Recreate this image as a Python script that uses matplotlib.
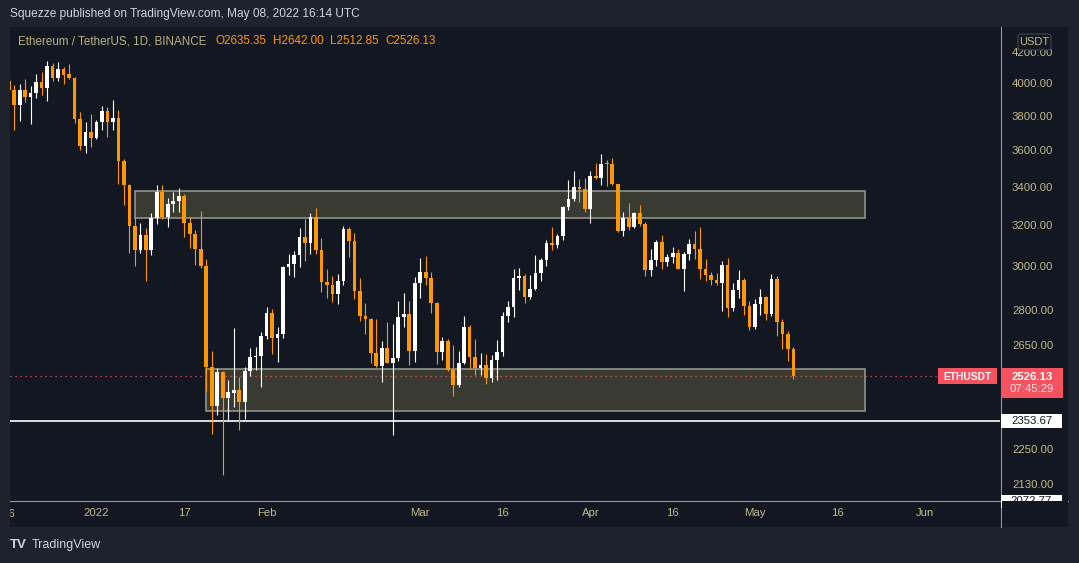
import numpy as np
import pandas as pd
import matplotlib
matplotlib.use('Agg')
import matplotlib.pyplot as plt
from matplotlib.patches import Rectangle, FancyBboxPatch
from matplotlib.ticker import NullLocator

plt.rcParams['font.family'] = ['Liberation Sans', 'DejaVu Sans']

W, H = 1079, 563

# ETH/USDT daily candles, 16 Dec 2021 .. 8 May 2022
dates = pd.date_range('2021-12-16', '2022-05-08', freq='D')
opens = [
    4015, 3956, 3864, 3956, 3915, 3937, 4006, 3970, 4108, 4031, 4089, 4057, 4031, 3780, 3625, 3705,  # dec
    3672, 3763, 3828, 3763, 3784, 3540, 3408, 3195, 3077, 3150, 3077, 3235, 3370, 3243, 3307, 3325,
    3350, 3210, 3158, 3080, 3000, 2560, 2410, 2540, 2440, 2460, 2468, 2424, 2545, 2600, 2605,  # jan
    2688, 2787, 2679, 2698, 2995, 3010, 3055, 3140, 3112, 3242, 3075, 2925, 2915, 2870, 2930, 3180,
    3120, 2886, 2773, 2760, 2617, 2565, 2638, 2578, 2597, 2770, 2782, 2625,  # feb
    2920, 2975, 2945, 2832, 2620, 2667, 2550, 2490, 2577, 2727, 2600, 2555, 2568, 2515, 2590, 2620,
    2773, 2815, 2945, 2952, 2860, 2895, 2970, 3030, 3110, 3104, 3145, 3292, 3332, 3400, 3385,  # mar
    3282, 3455, 3444, 3522, 3520, 3412, 3170, 3235, 3190, 3260, 3205, 2980, 3030, 3118, 3020, 3043,
    3063, 2988, 3058, 3105, 3080, 2985, 2960, 2935, 2920, 3008, 2810, 2890, 2937, 2817,  # apr
    2727, 2826, 2857, 2783, 2940, 2750, 2695, 2635.35,  # may
]
highs = [
    4060, 3987, 3994, 4025, 3981, 4057, 4070, 4140, 4127, 4133, 4101, 4120, 4035, 3822, 3763, 3810,
    3774, 3858, 3852, 3895, 3835, 3550, 3415, 3240, 3210, 3185, 3260, 3407, 3410, 3340, 3370, 3390,
    3360, 3240, 3175, 3270, 3035, 2625, 2555, 2545, 2510, 2723, 2520, 2560, 2638, 2642, 2705,
    2815, 2807, 2727, 3000, 3058, 3072, 3185, 3230, 3260, 3285, 3135, 2987, 2955, 2964, 3195, 3190,
    3160, 2946, 2830, 2765, 2760, 2667, 2750, 2738, 2840, 2876, 2840, 2950,
    3040, 3050, 2973, 2834, 2684, 2675, 2650, 2625, 2775, 2735, 2675, 2617, 2613, 2610, 2670, 2790,
    2840, 2985, 2990, 2963, 2960, 3052, 3040, 3125, 3190, 3155, 3300, 3435, 3485, 3440, 3445,
    3485, 3530, 3578, 3545, 3555, 3415, 3268, 3315, 3268, 3305, 3215, 3082, 3126, 3150, 3060, 3090,
    3082, 3070, 3130, 3170, 3190, 3035, 2975, 2968, 3025, 3040, 2922, 2980, 2945, 2840,
    2850, 2895, 2862, 2965, 2955, 2760, 2710, 2642.00,
]
lows = [
    3940, 3718, 3770, 3880, 3752, 3906, 3925, 3890, 4012, 4012, 3994, 4025, 3757, 3600, 3585, 3620,
    3665, 3716, 3675, 3715, 3412, 3303, 3065, 3000, 3063, 2930, 3053, 3205, 3232, 3190, 3265, 3266,
    3140, 3085, 3005, 2990, 2465, 2305, 2375, 2160, 2356, 2405, 2320, 2360, 2523, 2550, 2480,
    2675, 2615, 2580, 2680, 2960, 2950, 2995, 3025, 3060, 3060, 2882, 2855, 2838, 2828, 2913, 3045,
    2850, 2752, 2698, 2575, 2560, 2500, 2576, 2300, 2585, 2726, 2568, 2580,
    2855, 2913, 2787, 2573, 2590, 2545, 2446, 2480, 2572, 2554, 2528, 2528, 2493, 2500, 2508, 2605,
    2750, 2770, 2890, 2830, 2850, 2890, 2930, 3000, 3077, 3085, 3125, 3277, 3322, 3320, 3265,
    3212, 3440, 3408, 3405, 3410, 3165, 3145, 3175, 3185, 3195, 2955, 2955, 3000, 2985, 3000, 3013,
    2985, 2885, 3030, 3035, 2940, 2930, 2915, 2913, 2795, 2770, 2795, 2853, 2778, 2715,
    2720, 2778, 2755, 2775, 2690, 2635, 2587, 2512.85,
]
closes = [
    3956, 3864, 3956, 3915, 3937, 4006, 3970, 4108, 4031, 4089, 4050, 4030, 3780, 3625, 3705, 3672,
    3763, 3828, 3763, 3784, 3540, 3408, 3195, 3077, 3150, 3077, 3235, 3370, 3243, 3307, 3325, 3350,
    3210, 3158, 3080, 3000, 2560, 2410, 2540, 2440, 2462, 2468, 2424, 2545, 2600, 2605, 2688,
    2787, 2679, 2698, 2995, 3010, 3055, 3140, 3112, 3242, 3075, 2925, 2915, 2870, 2930, 3180, 3120,
    2886, 2773, 2760, 2617, 2565, 2638, 2576, 2597, 2770, 2782, 2625, 2920,
    2975, 2945, 2832, 2620, 2667, 2550, 2490, 2577, 2727, 2600, 2555, 2568, 2515, 2590, 2620, 2773,
    2815, 2945, 2952, 2860, 2895, 2970, 3030, 3110, 3104, 3145, 3292, 3332, 3400, 3385, 3282,
    3455, 3444, 3522, 3520, 3412, 3170, 3235, 3190, 3260, 3205, 2980, 3030, 3118, 3020, 3043, 3063,
    2988, 3058, 3105, 3080, 2985, 2960, 2935, 2920, 3008, 2810, 2890, 2937, 2817, 2727,
    2826, 2857, 2783, 2940, 2750, 2695, 2635, 2526.13,
]

# drawn zones (start, end, low, high)
zones = [('2022-01-08', '2022-05-21', 3238, 3378),
         ('2022-01-21', '2022-05-21', 2390, 2552)]
support = 2353.67
last_price = 2526.13

price_ticks = [2130, 2250, 2650, 2800, 3000, 3200, 3400, 3600, 3800, 4000, 4200]
date_ticks = ['2022-01-01', '2022-01-17', '2022-02-01', '2022-03-01', '2022-03-16',
              '2022-04-01', '2022-04-16', '2022-05-01', '2022-05-16', '2022-06-01']
date_labels = ['2022', '17', 'Feb', 'Mar', '16', 'Apr', '16', 'May', '16', 'Jun']

OUTER = '#1e222d'
PANE = '#131722'
AXTXT = '#c3b98a'
UPC = '#ffffff'
DNC = '#ff9800'
RED = '#f7525f'

t0 = pd.Timestamp('2022-01-01')
def day(d):
    return (pd.Timestamp(d) - t0).days

def fx(x, y):
    return x / W, 1 - y / H

def fig_rect(x0, y0, x1, y1, color, z, **kw):
    r = Rectangle(fx(x0, y1), (x1 - x0) / W, (y1 - y0) / H, transform=fig.transFigure,
                  facecolor=color, edgecolor='none', zorder=z, **kw)
    fig.patches.append(r)
    return r

fig = plt.figure(figsize=(W / 100, H / 100), dpi=100, facecolor=OUTER)
fig_rect(10, 27, 1068, 527, PANE, -5)

ax = fig.add_axes([10 / W, 1 - 500 / H, 990 / W, 473 / H])
ax.set_facecolor(PANE)
ax.set_yscale('log')
ax.set_xlim(-15.76, 164.65)
ax.set_ylim(2078, 4368)
for s in ax.spines.values():
    s.set_visible(False)

x = np.array([day(d) for d in dates])
o = np.array(opens); h = np.array(highs); l = np.array(lows); c = np.array(closes)
cols = np.where(c >= o, UPC, DNC)
ax.vlines(x, l, h, colors=cols, lw=0.8, zorder=3)
bottoms = np.minimum(o, c)
heights = np.maximum(np.abs(c - o), bottoms * 0.0018)
ax.bar(x, heights, width=0.68, bottom=bottoms, color=cols, linewidth=0, zorder=4)

for s, e, lo, hi in zones:
    ax.add_patch(Rectangle((day(s), lo), day(e) - day(s), hi - lo, facecolor='#393a31',
                           edgecolor='#9a9c94', lw=1.1, zorder=2))

ax.axhline(support, color='white', lw=1.2, zorder=2.6)
ax.axhline(last_price, color=RED, lw=0.9, ls=(0, (1, 3)), zorder=2.7)

ax.yaxis.tick_right()
ax.set_yticks(price_ticks)
ax.set_yticklabels([f'{p:.2f}' for p in price_ticks])
ax.yaxis.set_minor_locator(NullLocator())
ax.tick_params(axis='y', length=0, pad=8.6, labelsize=8.2, labelcolor=AXTXT)
ax.set_xticks([day(d) for d in date_ticks])
ax.set_xticklabels(date_labels)
ax.tick_params(axis='x', length=0, pad=6, labelsize=8.2, labelcolor=AXTXT)

# left cut-off "16" of december
fig.text(*fx(8.7, 514), '16', ha='center', va='center', fontsize=8.2, color=AXTXT, zorder=3)
fig_rect(0, 27, 10, 530, OUTER, 20)

# separators
fig.lines.append(plt.Line2D([1000.5 / W] * 2, [1 - 27 / H, 1 - 527 / H], transform=fig.transFigure,
                            color='#9598a1', lw=0.8, zorder=6))
fig.lines.append(plt.Line2D([10 / W, 1068 / W], [1 - 500.5 / H] * 2, transform=fig.transFigure,
                            color='#9598a1', lw=0.8, zorder=6))

# price labels on the scale
fig_rect(938, 368, 997, 384, RED, 7)
fig.text(*fx(967.5, 376.5), 'ETHUSDT', ha='center', va='center', fontsize=7.4, weight='bold',
         color='white', zorder=8)
fig_rect(1001, 368, 1063, 398, RED, 7)
fig.text(*fx(1032, 376.5), f'{last_price:.2f}', ha='center', va='center', fontsize=8.2,
         weight='bold', color='white', zorder=8)
fig.text(*fx(1032, 389.5), '07:45:29', ha='center', va='center', fontsize=8.2,
         color='#fde3e5', zorder=8)
fig_rect(1001, 414, 1062, 428, 'white', 7)
fig.text(*fx(1031.5, 421), f'{support:.2f}', ha='center', va='center', fontsize=8.2,
         color='#131722', zorder=8)
fig_rect(1001, 494.5, 1062, 508, 'white', 7)
fig.text(*fx(1031.5, 501.5), '2072.77', ha='center', va='center', fontsize=8.2,
         color='#131722', zorder=8)
fig_rect(1001.5, 501, 1068, 527, PANE, 9)

# USDT currency badge
badge = FancyBboxPatch(fx(1018, 50), 33 / W, 16 / H, boxstyle='round,pad=0,rounding_size=0.004',
                       transform=fig.transFigure, facecolor=PANE, edgecolor='#434651', lw=0.8, zorder=10)
fig.patches.append(badge)
fig.text(*fx(1034.5, 42), 'USDT', ha='center', va='center', fontsize=8, color=AXTXT, zorder=11)

# header texts
fig.text(*fx(10, 14), 'Squezze published on TradingView.com, May 08, 2022 16:14 UTC',
         ha='left', va='center', fontsize=8.6, color='#d1d4dc')
fig.text(*fx(18, 41.5), 'Ethereum / TetherUS, 1D, BINANCE', ha='left', va='center',
         fontsize=8.4, color='#b8b07f', zorder=12)
for xp, s in [(215, 'O2635.35'), (273, 'H2642.00'), (330, 'L2512.85'), (385, 'C2526.13')]:
    fig.text(*fx(xp, 41.5), s, ha='left', va='center', fontsize=8.4, color=DNC, zorder=12)

# footer logo
fig.text(*fx(10, 545), 'TV', ha='left', va='center', fontsize=9.5, weight='heavy', color='#d1d4dc')
fig.text(*fx(32, 545), 'TradingView', ha='left', va='center', fontsize=9, color='#d1d4dc')

fig.savefig('out.png', dpi=100, facecolor=OUTER)
